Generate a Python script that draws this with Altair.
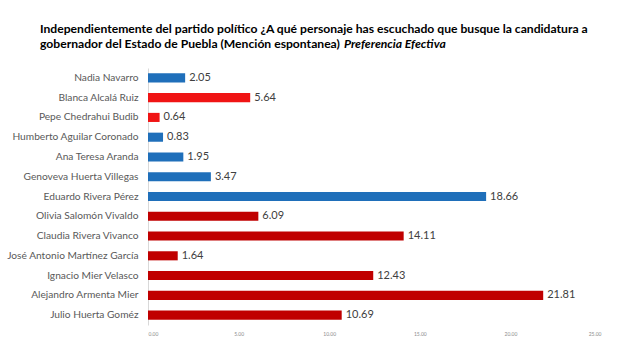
import altair as alt
import pandas as pd

names = [
    "Nadia Navarro", "Blanca Alcalá Ruiz", "Pepe Chedrahui Budib",
    "Humberto Aguilar Coronado", "Ana Teresa Aranda", "Genoveva Huerta Villegas",
    "Eduardo Rivera Pérez", "Olivia Salomón Vivaldo", "Claudia Rivera Vivanco",
    "José Antonio Martínez García", "Ignacio Mier Velasco", "Alejandro Armenta Mier",
    "Julio Huerta Goméz",
]
values = [2.05, 5.64, 0.64, 0.83, 1.95, 3.47, 18.66, 6.09, 14.11, 1.64, 12.43, 21.81, 10.69]
groups = ["azul", "rojo", "rojo", "azul", "azul", "azul", "azul",
          "guinda", "guinda", "guinda", "guinda", "guinda", "guinda"]
group_domain = ["azul", "rojo", "guinda"]
group_colors = ["#1F6FBA", "#F01414", "#C00000"]
x_ticks = [0, 5, 10, 15, 20, 25]

title_line1 = "Independientemente del partido político ¿A qué personaje has escuchado que busque la candidatura a"
title_line2 = "gobernador del Estado de Puebla (Mención espontanea)"
title_italic = "Preferencia Efectiva"

df = pd.DataFrame({"nombre": names, "valor": values, "grupo": groups})

FONT = "Lato"
TSIZE = 12.15

y_enc = alt.Y("nombre:N", sort=names, title=None,
              scale=alt.Scale(paddingInner=0.54, paddingOuter=0.27),
              axis=alt.Axis(labelFont=FONT, labelFontSize=10.2, labelColor="#595959",
                            ticks=False, domainColor="#D9D9D9", labelPadding=10,
                            labelLimit=200))
x_enc = alt.X("valor:Q", title=None,
              scale=alt.Scale(domain=[0, 25], nice=False),
              axis=alt.Axis(values=x_ticks, format=".2f", labelFont=FONT, labelFontSize=5,
                            labelColor="#8C8C8C", grid=False, domain=False, ticks=False,
                            labelPadding=6))

bars = alt.Chart(df).mark_bar().encode(
    x=x_enc, y=y_enc,
    color=alt.Color("grupo:N", scale=alt.Scale(domain=group_domain, range=group_colors),
                    legend=None),
)
labels = alt.Chart(df).mark_text(align="left", baseline="middle", dx=4,
                                 font=FONT, fontSize=11, color="#404040").encode(
    x="valor:Q", y=alt.Y("nombre:N", sort=names), text=alt.Text("valor:Q", format=".2f"))

t_base = alt.Chart(pd.DataFrame({"t": [0]}))
t1 = t_base.mark_text(align="left", baseline="alphabetic", font=FONT, fontSize=TSIZE,
                      fontWeight="bold", color="#000000").encode(
    x=alt.value(-108), y=alt.value(-35), text=alt.value(title_line1))
t2 = t_base.mark_text(align="left", baseline="alphabetic", font=FONT, fontSize=TSIZE,
                      fontWeight="bold", color="#000000").encode(
    x=alt.value(-108), y=alt.value(-20), text=alt.value(title_line2))
t3 = t_base.mark_text(align="left", baseline="alphabetic", font=FONT, fontSize=TSIZE,
                      fontStyle="italic", fontWeight="bold", color="#000000").encode(
    x=alt.value(196), y=alt.value(-20), text=alt.value(title_italic))

chart = alt.layer(bars, labels, t1, t2, t3).properties(
    width=453, height=257,
    background="white",
    autosize=alt.AutoSizeParams(type="none"),
    padding={"left": 148, "top": 68, "right": 28, "bottom": 26},
).configure_view(strokeWidth=0)

chart.save("out.html", embed_options={"renderer": "svg", "actions": False})
